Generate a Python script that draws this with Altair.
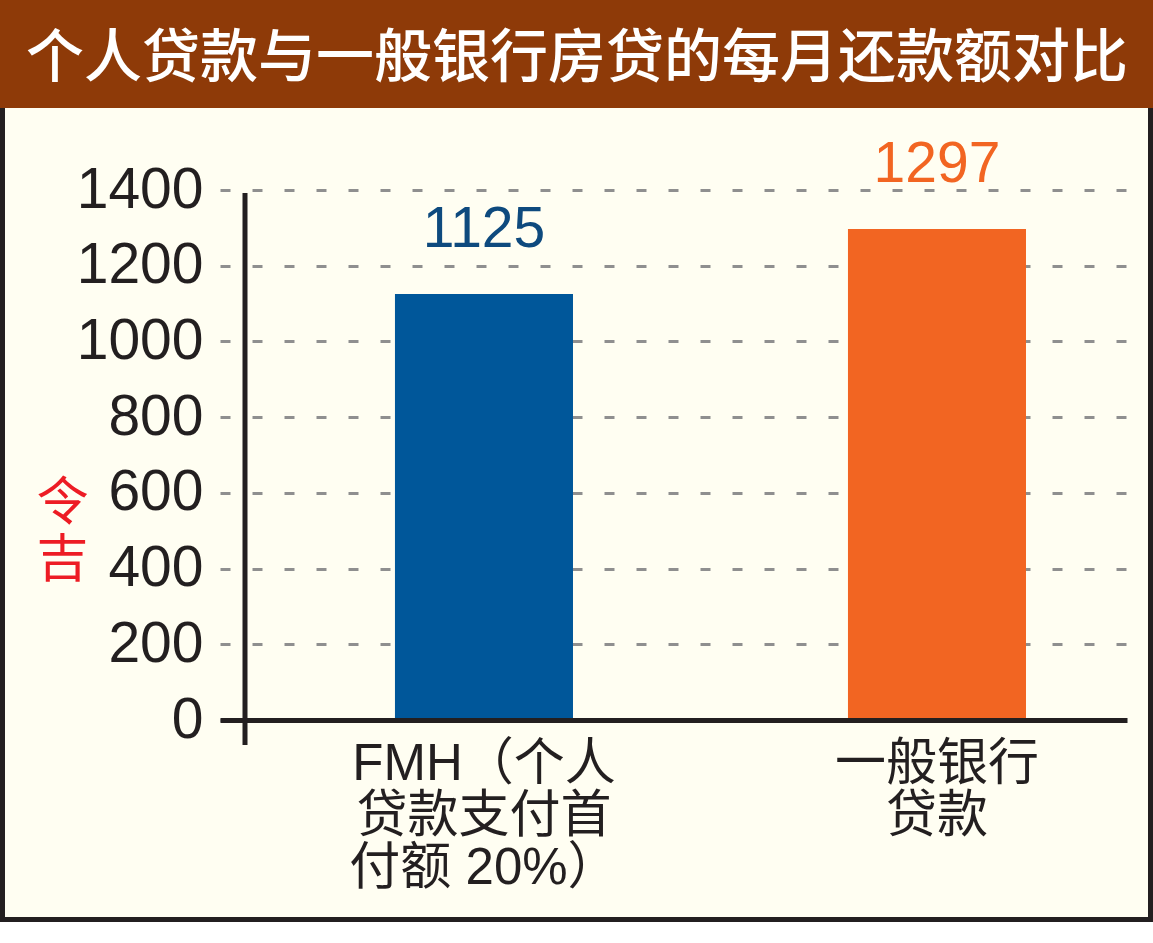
import altair as alt
import pandas as pd

# ---- data ----
categories = ["FMH（个人\n贷款支付首\n付额 20%）", "一般银行\n贷款"]
payments = [1125, 1297]
y_ticks = [0, 200, 400, 600, 800, 1000, 1200, 1400]
title_text = "个人贷款与一般银行房贷的每月还款额对比"
y_title = ["令", "吉"]

bar_colors = ["#00579A", "#F26522"]
label_colors = ["#0E4A7E", "#F26522"]

df = pd.DataFrame({"category": categories, "payment": payments})

# view origin in page: (220, 190); view size 907 x 530
VX, VY = 220, 190
W, H = 907, 530

one = alt.Data(values=[{"k": 1}])

# dark border of the cream panel (top edge hidden under title bar)
panel = alt.Chart(one).mark_rect(
    fill="transparent", stroke="#231F20", strokeWidth=5
).encode(
    x=alt.value(2.5 - VX), x2=alt.value(1150.5 - VX),
    y=alt.value(60 - VY), y2=alt.value(919.5 - VY),
)

# white strip below the panel
bottom_strip = alt.Chart(one).mark_rect(fill="#FFFFFF").encode(
    x=alt.value(0 - VX), x2=alt.value(1153 - VX),
    y=alt.value(922 - VY), y2=alt.value(943 - VY),
)

# brown title bar
title_bar = alt.Chart(one).mark_rect(fill="#8E3A08").encode(
    x=alt.value(0 - VX), x2=alt.value(1153 - VX),
    y=alt.value(0 - VY), y2=alt.value(108 - VY),
)

title = alt.Chart(one).mark_text(
    text=title_text, align="left", baseline="middle",
    font="Noto Sans CJK SC", fontSize=58, fontWeight=500, color="#FFFFFF",
).encode(x=alt.value(26 - VX), y=alt.value(60 - VY))

x_enc = alt.X(
    "category:N", sort=categories,
    scale=alt.Scale(paddingInner=0.607, paddingOuter=0.3046, align=0.634),
    axis=alt.Axis(
        title=None, domain=True, domainColor="#231F20", domainWidth=5,
        ticks=False, labelAngle=0, labelExpr="split(datum.label, '\\n')",
        labelFont="Liberation Sans, Noto Sans CJK SC", labelFontSize=51,
        labelLineHeight=52, labelColor="#231F20", labelPadding=19,
        labelBaseline="top", labelLimit=0, zindex=1,
    ),
)
y_enc = alt.Y(
    "payment:Q",
    scale=alt.Scale(domain=[0, 1400], nice=False),
    axis=alt.Axis(
        values=y_ticks, format="d", title=y_title, titleAngle=0, titleColor="#ED1C24",
        titleFont="Noto Sans CJK SC", titleFontSize=52, titleFontWeight="normal",
        titleLineHeight=57, titleX=62 - VX, titleY=503 - VY,
        titleAlign="center", titleBaseline="middle",
        domain=False, ticks=False, labelFont="Liberation Sans",
        labelFontSize=57, labelColor="#231F20", labelPadding=17,
        grid=True, gridColor="#8F8F8F", gridWidth=3, gridDash=[10, 22],
    ),
)

bars = alt.Chart(df).mark_bar().encode(
    x=x_enc, y=y_enc,
    color=alt.Color("category:N", sort=categories,
                    scale=alt.Scale(domain=categories, range=bar_colors), legend=None),
)

labels = alt.Chart(df).mark_text(
    baseline="alphabetic", dy=-47, font="Liberation Sans", fontSize=57,
).encode(
    x=alt.X("category:N", sort=categories), y="payment:Q",
    text=alt.Text("payment:Q"),
    fill=alt.Fill("category:N", sort=categories,
                  scale=alt.Scale(domain=categories, range=label_colors), legend=None),
)

# vertical axis line extending below the zero line
y_line = alt.Chart(one).mark_rule(color="#231F20", strokeWidth=5).encode(
    x=alt.value(245 - VX), y=alt.value(193 - VY), y2=alt.value(745 - VY),
)

chart = alt.layer(bottom_strip, panel, title_bar, title, bars, labels, y_line).properties(
    width=W, height=H,
    autosize=alt.AutoSizeParams(type="none"),
    padding={"left": VX, "top": VY, "right": 1153 - VX - W, "bottom": 943 - VY - H},
    background="#FFFEF2",
).configure_view(stroke=None)

chart.save("out.html", embed_options={"renderer": "svg", "actions": False})
